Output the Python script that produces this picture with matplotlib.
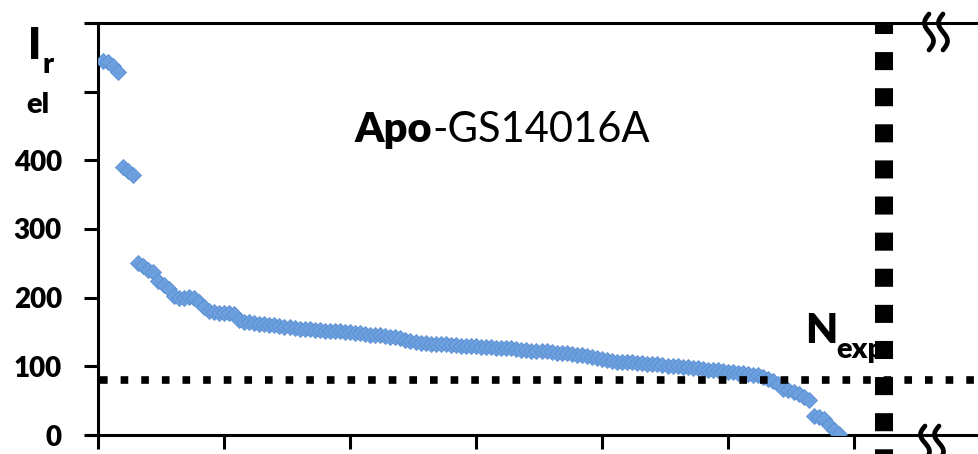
import matplotlib
matplotlib.use("Agg")
import numpy as np
import matplotlib.pyplot as plt
from matplotlib.lines import Line2D

# sorted relative intensities (one point per peak)
i_rel = [545, 543, 538, 528,
         390, 384, 378,
         250, 246, 240, 237, 224, 218, 213, 202, 200, 200, 201, 200, 193,
         186, 181, 179, 178, 178, 177, 176, 168, 165, 164, 163, 162, 161, 160,
         160, 159, 158, 157, 156, 155, 154, 154, 153, 153, 152, 152, 151, 151,
         150, 150, 149, 148, 147, 146, 145, 145, 144, 143, 142, 141, 139, 137,
         135, 134, 134, 133, 133, 132, 132, 131, 131, 130, 130, 129, 129, 128,
         128, 128, 127, 127, 126, 126, 125, 124, 124, 123, 123, 122, 122, 121,
         120, 120, 119, 118, 117, 116, 115, 114, 112, 110, 109, 108, 107, 107,
         106, 106, 105, 105, 104, 103, 103, 102, 101, 101, 100, 99, 99, 98,
         97, 96, 95, 94, 94, 93, 92, 92, 91, 90, 89, 88, 87, 85, 82, 79, 74,
         67, 65, 63, 59, 55, 51, 28, 26, 23, 15, 8, 2]
peak_no = np.arange(1, len(i_rel) + 1)

threshold = 80      # horizontal cut-off
n_exp = 156         # vertical marker
y_ticks = [0, 100, 200, 300, 400, 500, 600]
y_labels = ["0", "100", "200", "300", "400", "", ""]
x_ticks = [0, 25, 50, 75, 100, 125, 150]

plt.rcParams['font.family'] = ['Lato', 'DejaVu Sans']

W, H = 979, 454
fig = plt.figure(figsize=(W / 100, H / 100), dpi=100)
ax = fig.add_axes([98 / W, (H - 435) / H, 881 / W, 412 / H])


def px(x, y):
    return x / W, 1 - y / H


ax.plot(peak_no, i_rel, 'D', ms=8, color='#6b9fdd', mec='#5b8fd2', mew=0.6,
        zorder=3)

ax.plot([0.3, 175], [threshold, threshold], color='black', lw=5.5,
        linestyle=(0, (1, 1.7)), dash_capstyle='butt', zorder=4)
ax.plot([n_exp, n_exp], [600, -28], color='black', lw=13,
        linestyle=(0.39, (1, 1)), dash_capstyle='butt', clip_on=False, zorder=4)

ax.set_xlim(0, 174.8)
ax.set_ylim(0, 600)
ax.set_xticks(x_ticks)
ax.set_xticklabels([])
ax.set_yticks(y_ticks)
ax.set_yticklabels(y_labels, fontsize=20, fontweight='heavy')
ax.tick_params(axis='both', direction='out', length=10, width=2.2)
ax.tick_params(axis='y', pad=16)

for s in ['left', 'bottom', 'top']:
    ax.spines[s].set_linewidth(2.2)
ax.spines['right'].set_visible(False)
ax.spines['top'].set_bounds(-2, 174.8)
ax.spines['bottom'].set_bounds(-2, 174.8)

# axis label split like the original
fig.text(*px(28, 59), "I", fontsize=31, fontweight='heavy', va='baseline')
fig.text(*px(43, 73), "r", fontsize=21, fontweight='heavy', va='baseline')
fig.text(*px(26, 113), "el", fontsize=21, fontweight='heavy', va='baseline')

fig.text(*px(355, 142), "Apo", fontsize=30, fontweight='heavy', va='baseline')
fig.text(*px(432, 142), "-GS14016A", fontsize=30, va='baseline')

fig.text(*px(805, 343), "N", fontsize=30, fontweight='heavy', va='baseline')
fig.text(*px(836, 358), "exp", fontsize=21, fontweight='heavy', va='baseline')

# axis break marks: two wavy strokes at top and bottom of the cut
s = np.linspace(0, 1, 60)
for cx, y0, h in [(929, 14, 36), (943, 14, 36), (925, 426, 34), (939, 426, 34)]:
    xs = cx - 4.5 * np.sin(2 * np.pi * s)
    ys = y0 + h * s
    fig.add_artist(Line2D(xs / W, 1 - ys / H, transform=fig.transFigure,
                          color='black', lw=3.4, solid_capstyle='round',
                          zorder=6))

fig.savefig("out.png", dpi=100)
